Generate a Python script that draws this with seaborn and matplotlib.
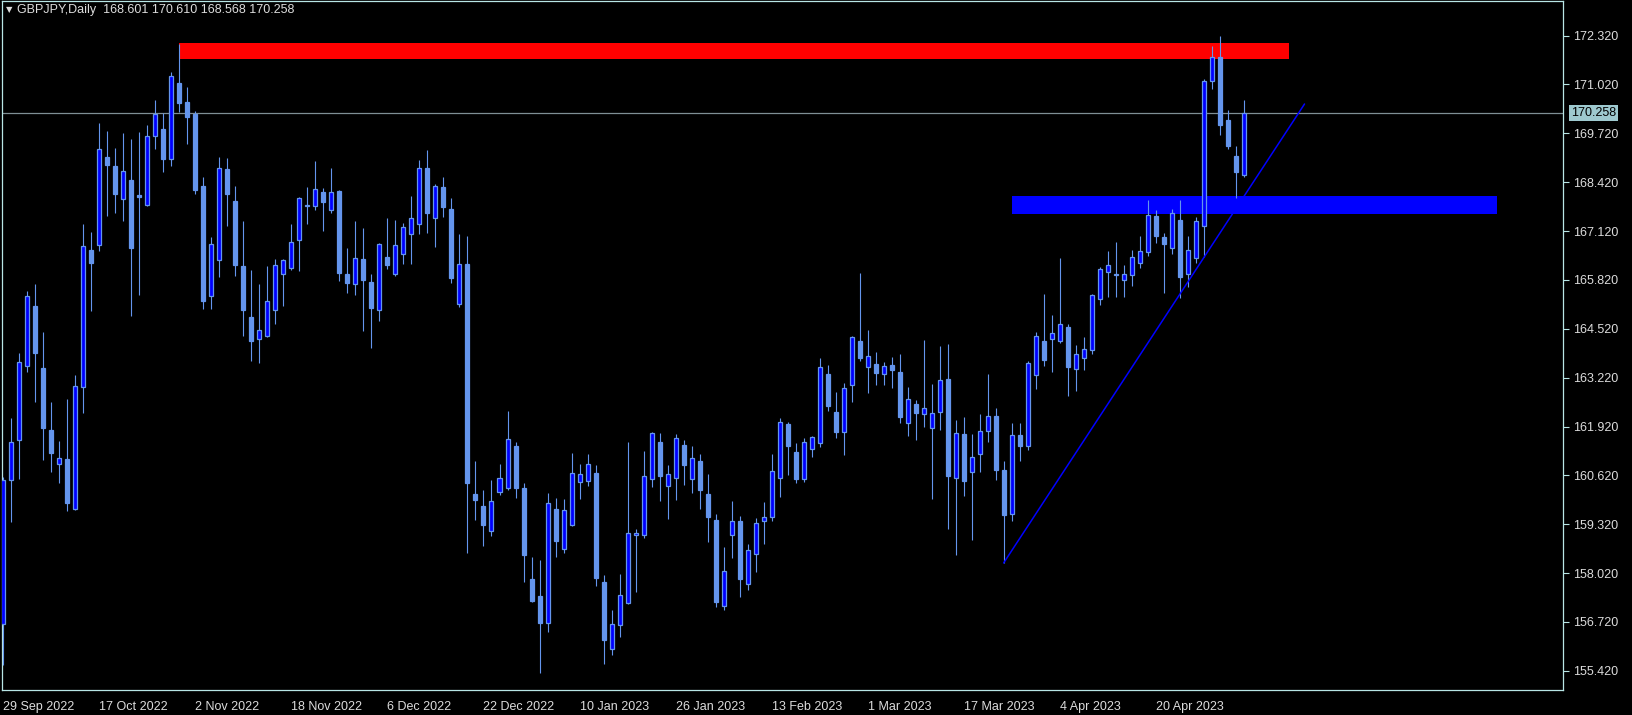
import numpy as np
import pandas as pd
import seaborn as sns
import matplotlib.pyplot as plt
from matplotlib.patches import Rectangle

# daily GBPJPY candles
opens = [156.66, 160.51, 161.57, 163.52, 165.12, 163.48, 161.82, 160.93, 161.06, 159.73,
         162.96, 166.61, 166.74, 169.09, 168.85, 167.96, 168.48, 168.08, 167.80, 169.66,
         169.83, 169.04, 171.06, 170.54, 170.24, 168.32, 165.38, 166.35, 168.76, 167.92,
         166.19, 164.83, 164.26, 164.34, 165.03, 165.99, 166.15, 166.87, 167.80, 167.78,
         168.16, 167.69, 168.18, 165.97, 165.70, 166.38, 165.76, 165.03, 166.43, 165.99,
         166.52, 167.03, 167.30, 168.80, 167.48, 168.30, 167.70, 165.17, 166.23, 160.12,
         159.81, 159.13, 160.17, 160.29, 161.40, 160.28, 157.86, 157.41, 156.70, 159.73,
         158.67, 159.31, 160.44, 160.46, 160.68, 157.78, 156.00, 156.63, 157.22, 159.03,
         159.03, 160.53, 161.51, 160.35, 160.56, 161.43, 160.53, 161.00, 160.12, 159.43,
         157.15, 159.04, 159.41, 157.72, 158.52, 159.40, 159.50, 160.56, 161.99, 161.24,
         160.53, 161.33, 161.47, 163.31, 162.30, 161.78, 163.02, 164.19, 163.49, 163.57,
         163.31, 163.55, 163.37, 162.02, 162.52, 162.24, 161.87, 162.30, 163.18, 160.56,
         161.71, 160.72, 161.18, 161.80, 162.20, 160.76, 159.60, 161.70, 161.40, 163.30,
         164.19, 164.26, 164.20, 164.57, 163.46, 163.73, 163.95, 165.30, 166.02, 165.98,
         165.81, 165.96, 166.26, 166.57, 167.52, 166.96, 166.68, 167.41, 165.99, 166.41,
         167.26, 171.11, 171.75, 170.07, 169.11, 168.601]
highs = [160.57, 162.15, 163.87, 165.52, 165.71, 164.43, 162.57, 161.53, 162.65, 163.29,
         167.31, 167.09, 169.99, 169.78, 169.34, 169.72, 169.56, 169.75, 169.94, 170.60,
         170.25, 171.35, 172.10, 170.95, 170.31, 168.56, 166.96, 169.09, 169.06, 168.32,
         167.39, 166.08, 165.71, 166.19, 166.38, 166.38, 167.31, 168.02, 168.29, 168.98,
         168.26, 168.80, 168.20, 166.67, 167.39, 167.20, 165.98, 166.80, 167.46, 167.41,
         167.33, 168.05, 169.01, 169.27, 168.37, 168.55, 168.00, 167.05, 167.00, 161.00,
         160.23, 160.50, 160.92, 162.33, 161.51, 160.42, 158.45, 158.36, 160.15, 160.02,
         159.99, 161.22, 160.92, 161.19, 160.90, 157.97, 157.04, 158.00, 161.51, 159.19,
         161.27, 161.77, 161.75, 160.90, 161.72, 161.56, 161.40, 161.19, 160.66, 159.59,
         158.72, 159.94, 159.54, 158.80, 159.49, 159.90, 161.19, 162.15, 162.04, 161.48,
         161.61, 161.68, 163.74, 163.55, 162.83, 163.09, 164.33, 166.00, 164.49, 163.90,
         163.64, 163.77, 163.85, 162.97, 162.63, 164.22, 163.05, 164.06, 164.11, 162.09,
         162.17, 161.72, 162.25, 163.32, 162.40, 161.00, 162.00, 162.00, 163.66, 164.43,
         165.44, 164.89, 166.40, 164.65, 164.09, 164.30, 165.45, 166.17, 166.59, 166.83,
         166.21, 166.61, 166.99, 167.94, 167.68, 167.07, 167.70, 167.94, 166.99, 167.49,
         171.16, 172.05, 172.31, 170.34, 169.38, 170.610]
lows = [155.58, 159.39, 160.53, 163.38, 162.58, 161.03, 160.71, 160.43, 159.68, 159.70,
        162.29, 165.00, 166.60, 167.53, 167.61, 167.40, 164.87, 165.43, 167.79, 169.31,
        168.69, 168.85, 170.28, 169.44, 168.11, 165.05, 165.05, 165.91, 167.26, 165.93,
        164.34, 163.65, 163.60, 164.31, 164.66, 165.13, 166.09, 166.07, 167.32, 167.69,
        167.13, 167.61, 165.80, 165.48, 165.43, 164.47, 164.02, 164.73, 166.12, 165.93,
        166.25, 166.25, 167.05, 167.08, 166.70, 167.50, 165.75, 165.11, 158.55, 159.44,
        158.75, 159.02, 160.11, 160.24, 160.03, 157.79, 157.25, 155.35, 156.45, 158.46,
        158.56, 159.26, 160.00, 160.35, 157.69, 155.60, 155.85, 156.33, 157.20, 157.53,
        158.96, 160.32, 159.95, 159.47, 159.97, 160.37, 160.16, 159.73, 158.86, 157.12,
        157.04, 158.43, 157.39, 157.58, 158.06, 158.80, 159.40, 160.05, 160.63, 160.43,
        160.45, 161.12, 161.38, 162.34, 161.62, 161.17, 162.58, 163.66, 162.82, 163.03,
        163.03, 162.95, 162.02, 161.68, 161.57, 161.92, 160.00, 161.84, 159.18, 158.50,
        160.08, 158.91, 160.72, 161.50, 160.50, 158.29, 159.40, 161.00, 161.30, 162.93,
        163.54, 163.38, 164.15, 162.74, 162.87, 163.43, 163.85, 165.15, 165.36, 165.37,
        165.37, 165.66, 166.14, 166.46, 166.81, 165.48, 166.52, 165.33, 165.62, 166.28,
        166.42, 170.90, 169.67, 169.30, 168.00, 168.568]
closes = [160.50, 161.50, 163.63, 165.38, 163.88, 161.89, 161.22, 161.07, 159.89, 162.99,
          166.71, 166.28, 169.29, 168.88, 168.11, 168.71, 166.68, 168.03, 169.66, 170.23,
          169.04, 171.24, 170.53, 170.16, 168.22, 165.27, 166.77, 168.81, 168.11, 166.22,
          165.03, 164.20, 164.48, 165.25, 166.21, 166.34, 166.82, 167.99, 167.79, 168.23,
          167.90, 168.17, 166.01, 165.75, 166.39, 165.83, 165.08, 166.77, 166.22, 166.74,
          167.22, 167.48, 168.81, 167.61, 168.33, 167.75, 165.88, 166.23, 160.43, 159.97,
          159.31, 159.93, 160.54, 161.58, 160.29, 158.51, 157.28, 156.70, 159.88, 158.88,
          159.69, 160.67, 160.65, 160.91, 157.90, 156.25, 156.67, 157.43, 159.08, 159.10,
          160.60, 161.74, 160.59, 160.65, 161.61, 160.90, 161.07, 160.24, 159.52, 157.25,
          158.07, 159.40, 157.87, 158.63, 159.35, 159.50, 160.74, 162.04, 161.41, 160.53,
          161.50, 161.63, 163.49, 162.47, 161.78, 162.94, 164.29, 163.75, 163.79, 163.35,
          163.52, 163.43, 162.16, 162.64, 162.29, 162.40, 162.27, 163.15, 160.61, 161.74,
          160.48, 161.10, 161.80, 162.20, 160.76, 159.57, 161.70, 161.40, 163.61, 164.34,
          163.70, 164.41, 164.64, 163.51, 163.85, 163.97, 165.41, 166.10, 166.21, 165.96,
          165.97, 166.42, 166.59, 167.54, 166.99, 166.78, 167.59, 165.90, 166.61, 167.40,
          171.10, 171.75, 169.94, 169.38, 168.69, 170.258]

date_labels = ['29 Sep 2022', '17 Oct 2022', '2 Nov 2022', '18 Nov 2022', '6 Dec 2022',
               '22 Dec 2022', '10 Jan 2023', '26 Jan 2023', '13 Feb 2023', '1 Mar 2023',
               '17 Mar 2023', '4 Apr 2023', '20 Apr 2023']
date_bars = [0, 12, 24, 36, 48, 60, 72, 84, 96, 108, 120, 132, 144]
price_ticks = [155.42, 156.72, 158.02, 159.32, 160.62, 161.92, 163.22,
               164.52, 165.82, 167.12, 168.42, 169.72, 171.02, 172.32]

last_price = 170.258
resistance = (22, 160.6, 171.69, 172.11)   # bar from, bar to, price low, price high
support = (126, 186.6, 167.57, 168.06)
trend = ([125, 162.6], [158.29, 170.50])

df = pd.DataFrame({'open': opens, 'high': highs, 'low': lows, 'close': closes})
df['bar'] = np.arange(len(df))
df['bull'] = df['close'] >= df['open']

fg = '#b8e6e6'
wick_c = '#6495ed'
bull_c = '#0000ff'

sns.set_style('dark', {'axes.facecolor': 'black', 'figure.facecolor': 'black',
                       'axes.edgecolor': fg, 'axes.grid': False})
plt.rcParams['font.family'] = ['Liberation Sans', 'DejaVu Sans']

fig = plt.figure(figsize=(16.33, 7.15), dpi=100)
ax = fig.add_axes([2 / 1633, 1 - 690 / 715, 1561 / 1633, 689 / 715])
ax.set_facecolor('black')

# zones and trend line (background objects)
ax.add_patch(Rectangle((resistance[0], resistance[2]), resistance[1] - resistance[0],
                       resistance[3] - resistance[2], color='#ff0000', lw=0, zorder=1))
ax.add_patch(Rectangle((support[0], support[2]), support[1] - support[0],
                       support[3] - support[2], color='#0000ff', lw=0, zorder=1))
ax.axhline(last_price, color='#7f8f95', lw=0.9, zorder=2)

# wicks
ax.vlines(df['bar'], df['low'], df['high'], color=wick_c, lw=0.8, zorder=3)

# bodies
body_lo = df[['open', 'close']].min(axis=1)
body_h = (df['close'] - df['open']).abs().clip(lower=0.004)
up = df['bull']
ax.bar(df['bar'][up], body_h[up], bottom=body_lo[up], width=0.5,
       color=bull_c, edgecolor=wick_c, lw=0.9, zorder=4)
ax.bar(df['bar'][~up], body_h[~up], bottom=body_lo[~up], width=0.5,
       color=wick_c, edgecolor=wick_c, lw=0.9, zorder=4)

ax.plot(trend[0], trend[1], color='#0000ff', lw=1.1, zorder=5)

ax.set_xlim(-0.17, 194.9)
ax.set_ylim(154.91, 173.24)

ax.yaxis.tick_right()
ax.set_yticks(price_ticks)
ax.set_yticklabels([f'{p:.3f}' for p in price_ticks])
ax.set_xticks(date_bars)
ax.set_xticklabels(date_labels)
for lbl in ax.get_xticklabels():
    lbl.set_horizontalalignment('left')
ax.tick_params(axis='both', colors=fg, labelcolor='#dcdcdc', labelsize=9,
               length=4, width=0.8, direction='out', pad=3)
ax.tick_params(axis='x', pad=4)
for s in ax.spines.values():
    s.set_color(fg)
    s.set_linewidth(0.9)

# last price tag on the axis
ax.annotate(f'{last_price:.3f}', xy=(1, last_price), xycoords=('axes fraction', 'data'),
            xytext=(6, 0), textcoords='offset points', va='center', ha='left',
            fontsize=9, color='black',
            bbox=dict(boxstyle='square,pad=0.15', fc='#9ec9cf', ec='none'))

fig.text(6 / 1633, 1 - 10 / 715, '\u25BC', color='#dcdcdc', fontsize=6, va='center',
         family=['DejaVu Sans'])
fig.text(17 / 1633, 1 - 10 / 715, 'GBPJPY,Daily  168.601 170.610 168.568 170.258',
         color='#dcdcdc', fontsize=9, va='center')

plt.savefig('out.png', dpi=100, facecolor='black')
